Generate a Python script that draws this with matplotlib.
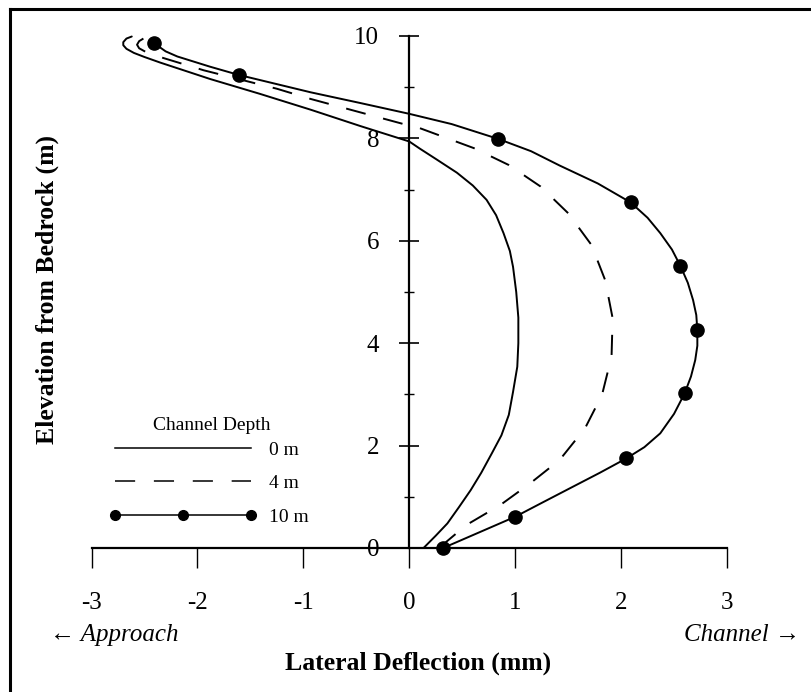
import matplotlib
matplotlib.use("Agg")
import matplotlib.pyplot as plt
from matplotlib.lines import Line2D
from matplotlib.legend_handler import HandlerLine2D
from matplotlib.ticker import MultipleLocator

# ---------------- data ----------------
depth0_x = [-2.62, -2.67, -2.70, -2.70, -2.67, -2.60, -2.50, -2.35, -2.10, -1.88, -1.41,
            -0.93, -0.46, 0.00, 0.10, 0.25, 0.45, 0.60, 0.73, 0.82, 0.89, 0.95, 0.98,
            1.01, 1.03, 1.03, 1.02, 0.98, 0.94, 0.87, 0.78, 0.68, 0.58, 0.47, 0.36,
            0.25, 0.135]
depth0_y = [9.99, 9.95, 9.88, 9.82, 9.75, 9.67, 9.59, 9.48, 9.31, 9.16, 8.87,
            8.56, 8.24, 7.94, 7.80, 7.60, 7.33, 7.08, 6.80, 6.50, 6.15, 5.80, 5.49,
            5.00, 4.50, 4.00, 3.54, 3.05, 2.60, 2.20, 1.85, 1.47, 1.13, 0.80, 0.48,
            0.24, 0.00]

depth4_x = [-2.51, -2.55, -2.57, -2.55, -2.48, -2.40, -2.29, -1.94, -1.25, -0.93,
            0.00, 0.10, 0.27, 0.61, 0.94, 1.24, 1.50, 1.72, 1.85, 1.92, 1.91, 1.82,
            1.66, 1.42, 1.14, 0.86, 0.54, 0.28]
depth4_y = [9.95, 9.90, 9.83, 9.76, 9.68, 9.62, 9.55, 9.33, 8.97, 8.77,
            8.25, 8.20, 8.07, 7.81, 7.48, 7.06, 6.54, 5.92, 5.23, 4.49, 3.74, 2.99,
            2.34, 1.72, 1.26, 0.84, 0.45, 0.00]

depth10_x = [-2.41, -2.30, -2.19, -1.88, -1.61, -1.25, -0.93, -0.46, 0.00, 0.40, 0.84,
             1.15, 1.42, 1.78, 2.09, 2.25, 2.37, 2.48, 2.56, 2.63, 2.68, 2.71, 2.72,
             2.72, 2.70, 2.66, 2.60, 2.50, 2.37, 2.22, 2.05, 1.80, 1.52, 1.25, 1.00, 0.32]
depth10_y = [9.86, 9.70, 9.60, 9.40, 9.24, 9.06, 8.90, 8.69, 8.48, 8.28, 7.99,
             7.75, 7.47, 7.12, 6.75, 6.45, 6.15, 5.83, 5.51, 5.18, 4.84, 4.55, 4.26,
             3.95, 3.67, 3.35, 3.02, 2.62, 2.24, 1.97, 1.75, 1.47, 1.17, 0.88, 0.61, 0.00]

markers10_x = [0.32, 1.00, 2.05, 2.60, 2.72, 2.56, 2.09, 0.84, -1.61, -2.41]
markers10_y = [0.00, 0.61, 1.75, 3.02, 4.26, 5.51, 6.75, 7.99, 9.24, 9.86]

legend_labels = ["0 m", "4 m", "10 m"]
legend_title = "Channel Depth"
x_ticks = [-3, -2, -1, 0, 1, 2, 3]
y_ticks = [0, 2, 4, 6, 8, 10]

# ---------------- style ----------------
plt.rcParams['font.family'] = ['Liberation Serif', 'DejaVu Serif']
plt.rcParams['axes.unicode_minus'] = False
plt.rcParams['lines.scale_dashes'] = False

W, H = 811, 692
fig = plt.figure(figsize=(W / 100, H / 100), dpi=100)
ax = fig.add_axes([91.5 / W, 1 - 548 / H, 635.5 / W, 512 / H])

LW = 1.4
DASH = (0, (14.5, 13))

ax.plot(depth0_x, depth0_y, color='black', lw=LW, solid_capstyle='round', clip_on=False)
ax.plot(depth4_x, depth4_y, color='black', lw=LW, linestyle=DASH, clip_on=False)
ax.plot(depth10_x, depth10_y, color='black', lw=LW, clip_on=False)
ax.plot(markers10_x, markers10_y, linestyle='none', marker='o', ms=9.5,
        color='black', clip_on=False, zorder=5)

ax.set_xlim(-3, 3)
ax.set_ylim(0, 10)

for s in ['top', 'right']:
    ax.spines[s].set_visible(False)
ax.spines['left'].set_position(('data', 0))
ax.spines['bottom'].set_position(('data', 0))
ax.spines['left'].set_linewidth(1.6)
ax.spines['bottom'].set_linewidth(1.6)

ax.set_xticks(x_ticks)
ax.set_yticks(y_ticks)
ax.yaxis.set_minor_locator(MultipleLocator(1))
ax.tick_params(axis='x', direction='out', length=14.4, width=1.0, pad=17,
               labelsize=18)
ax.tick_params(axis='y', which='major', direction='inout', length=14.4, width=1.2,
               pad=14.4, labelsize=18)
ax.tick_params(axis='y', which='minor', direction='inout', length=6.5, width=1.0)
ax.set_xticklabels([str(t) for t in x_ticks])
ax.set_yticklabels([str(t) for t in y_ticks])

# legend
handles = [
    Line2D([], [], color='black', lw=1.1),
    Line2D([], [], color='black', lw=1.1, linestyle=(0, (14.5, 13.5))),
    Line2D([], [], color='black', lw=1.1, marker='o', ms=7),
]
leg = fig.legend(handles, legend_labels, title=legend_title, loc='upper left',
                 bbox_to_anchor=(115 / W, 1 - 417 / H), frameon=False,
                 fontsize=14, title_fontsize=14, borderpad=0, borderaxespad=0,
                 handlelength=7.0, handletextpad=0.9, labelspacing=0.81,
                 handler_map={Line2D: HandlerLine2D(numpoints=3, marker_pad=0)})
leg._legend_box.sep = 5.2

# axis labels and direction notes
fig.text(418 / W, 1 - 663 / H, "Lateral Deflection (mm)", ha='center', va='center',
         fontsize=18.5, fontweight='bold')
fig.text(47 / W, 1 - 290 / H, "Elevation from Bedrock (m)", ha='center', va='center',
         rotation=90, fontsize=18.5, fontweight='bold')
fig.text(50 / W, 1 - 641 / H, "\u2190 Approach", ha='left', va='baseline',
         fontsize=18, style='italic')
fig.text(800 / W, 1 - 641 / H, "Channel \u2192", ha='right', va='baseline',
         fontsize=18, style='italic')

# outer frame (top and left edges visible in the reference)
fig.add_artist(Line2D([9.5 / W, 1.0], [1 - 8.5 / H, 1 - 8.5 / H], color='black', lw=2.2,
                      transform=fig.transFigure))
fig.add_artist(Line2D([9.5 / W, 9.5 / W], [0.0, 1 - 8.5 / H], color='black', lw=2.2,
                      transform=fig.transFigure))

fig.savefig("out.png", dpi=100, facecolor='white')
